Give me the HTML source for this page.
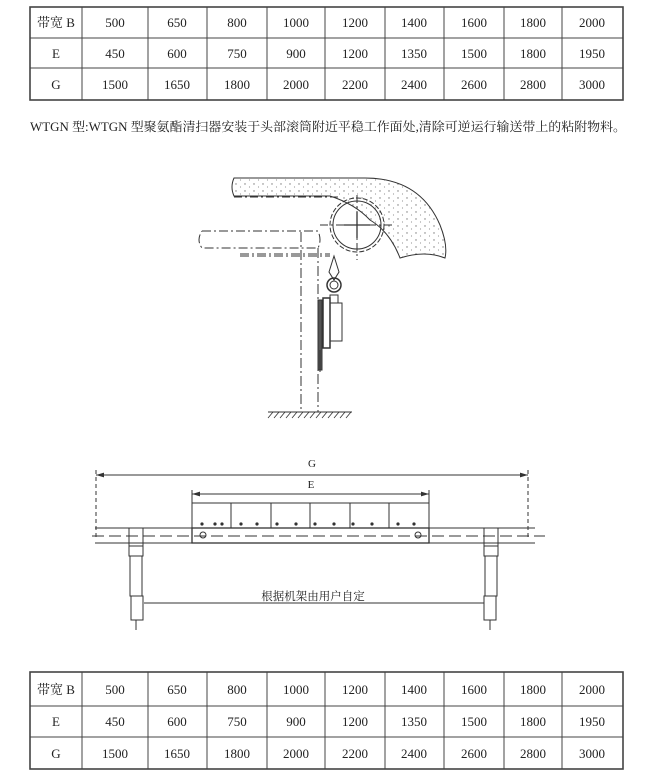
<!DOCTYPE html><html><head><meta charset="utf-8"><style>
html,body{margin:0;padding:0;background:#fff;width:650px;height:781px;overflow:hidden}
svg{display:block}
text{font-family:"Liberation Serif","Noto Serif CJK SC",serif;fill:#222}
</style></head><body>
<svg width="650" height="781" viewBox="0 0 650 781">
<defs>
<pattern id="dots" width="9" height="7" patternUnits="userSpaceOnUse"><circle cx="2" cy="2" r="0.7" fill="#777"/><circle cx="6.5" cy="5" r="0.6" fill="#999"/></pattern>
<marker id="ar" viewBox="0 0 10 6" refX="10" refY="3" markerWidth="8" markerHeight="5" orient="auto-start-reverse"><path d="M0,0L10,3L0,6z" fill="#333"/></marker>
</defs>
<g stroke="#444" stroke-width="1" fill="none">
<!-- top table -->
<rect x="30" y="7" width="593" height="93" stroke-width="1.6"/>
<line x1="30" y1="38" x2="623" y2="38"/><line x1="30" y1="68" x2="623" y2="68"/>
<path d="M82 7V100M148 7V100M207 7V100M267 7V100M325 7V100M385 7V100M444 7V100M504 7V100M562 7V100"/>
<!-- bottom table -->
<rect x="30" y="672" width="593" height="97" stroke-width="1.6"/>
<line x1="30" y1="706" x2="623" y2="706"/><line x1="30" y1="737" x2="623" y2="737"/>
<path d="M82 672V769M148 672V769M207 672V769M267 672V769M325 672V769M385 672V769M444 672V769M504 672V769M562 672V769"/>
</g>
<g font-size="13" text-anchor="middle">
<text x="56" y="27">带宽 B</text><text x="115" y="27">500</text><text x="177" y="27">650</text><text x="237" y="27">800</text><text x="296" y="27">1000</text><text x="355" y="27">1200</text><text x="414" y="27">1400</text><text x="474" y="27">1600</text><text x="533" y="27">1800</text><text x="592" y="27">2000</text>
<text x="56" y="58">E</text><text x="115" y="58">450</text><text x="177" y="58">600</text><text x="237" y="58">750</text><text x="296" y="58">900</text><text x="355" y="58">1200</text><text x="414" y="58">1350</text><text x="474" y="58">1500</text><text x="533" y="58">1800</text><text x="592" y="58">1950</text>
<text x="56" y="89">G</text><text x="115" y="89">1500</text><text x="177" y="89">1650</text><text x="237" y="89">1800</text><text x="296" y="89">2000</text><text x="355" y="89">2200</text><text x="414" y="89">2400</text><text x="474" y="89">2600</text><text x="533" y="89">2800</text><text x="592" y="89">3000</text>
<text x="56" y="694">带宽 B</text><text x="115" y="694">500</text><text x="177" y="694">650</text><text x="237" y="694">800</text><text x="296" y="694">1000</text><text x="355" y="694">1200</text><text x="414" y="694">1400</text><text x="474" y="694">1600</text><text x="533" y="694">1800</text><text x="592" y="694">2000</text>
<text x="56" y="726">E</text><text x="115" y="726">450</text><text x="177" y="726">600</text><text x="237" y="726">750</text><text x="296" y="726">900</text><text x="355" y="726">1200</text><text x="414" y="726">1350</text><text x="474" y="726">1500</text><text x="533" y="726">1800</text><text x="592" y="726">1950</text>
<text x="56" y="758">G</text><text x="115" y="758">1500</text><text x="177" y="758">1650</text><text x="237" y="758">1800</text><text x="296" y="758">2000</text><text x="355" y="758">2200</text><text x="414" y="758">2400</text><text x="474" y="758">2600</text><text x="533" y="758">2800</text><text x="592" y="758">3000</text>
</g>
<text x="30" y="131" font-size="12.5" textLength="596" lengthAdjust="spacingAndGlyphs">WTGN 型:WTGN 型聚氨酯清扫器安装于头部滚筒附近平稳工作面处,清除可逆运行输送带上的粘附物料。</text>

<!-- side view -->
<g stroke="#333" stroke-width="1" fill="none">
<path d="M234 178 H365 Q420 178 440 225 Q448 245 445 258 Q425 250 400 258 Q390 232 370 220 Q355 204 330 196 H234 Q230 187 234 178z" fill="url(#dots)"/>
<circle cx="357" cy="225" r="24"/><circle cx="357" cy="225" r="27" stroke-dasharray="5 2"/>
<path d="M344 225H370M357 212V238" stroke-width="1.3"/>
<path d="M320 225H395M357 195V260" stroke-dasharray="8 3 2 3"/>
<path d="M234 197 H340" stroke-dasharray="8 3 2 3"/>
<path d="M202 231 H318 Q322 240 318 248 H202 Q196 240 202 231" stroke-dasharray="9 3 2 3"/>
<path d="M240 254 H330M240 256 H330" stroke-dasharray="9 3 2 3"/>
<path d="M301 232V412M318 248V412" stroke-dasharray="10 3 2 3"/>
<path d="M268 412H352"/><path d="M268 418l5-6M274 418l5-6M280 418l5-6M286 418l5-6M292 418l5-6M298 418l5-6M304 418l5-6M310 418l5-6M316 418l5-6M322 418l5-6M328 418l5-6M334 418l5-6M340 418l5-6M346 418l5-6" stroke-width="0.8"/>
<path d="M334 256 L329 272 L334 280 L339 272z"/>
<circle cx="334" cy="285" r="7" stroke-width="1.5"/><circle cx="334" cy="285" r="4"/>
<rect x="330" y="295" width="8" height="8"/>
<rect x="330" y="303" width="12" height="38"/>
<rect x="323" y="298" width="7" height="50" stroke-width="1.5"/>
<rect x="318" y="300" width="4" height="70" fill="#555"/>
<path d="M320 350V372"/>
</g>

<!-- front view -->
<g stroke="#333" stroke-width="1" fill="none">
<line x1="96" y1="475" x2="528" y2="475" marker-start="url(#ar)" marker-end="url(#ar)"/>
<line x1="96" y1="470" x2="96" y2="540" stroke-dasharray="4 3"/><line x1="528" y1="470" x2="528" y2="540" stroke-dasharray="4 3"/>
<line x1="192" y1="494" x2="429" y2="494" marker-start="url(#ar)" marker-end="url(#ar)"/>
<line x1="192" y1="490" x2="192" y2="505"/><line x1="429" y1="490" x2="429" y2="505"/>
<rect x="192" y="503" width="237" height="25"/>
<path d="M231 503V528M271 503V528M310 503V528M350 503V528M389 503V528"/>
<rect x="192" y="528" width="237" height="15" stroke-width="1.3"/>
<path d="M95 528H192M429 528H535M95 543H192M429 543H535"/>
<path d="M92 536H545" stroke-dasharray="12 5"/>
<circle cx="203" cy="535" r="3"/><circle cx="418" cy="535" r="3"/>
<rect x="129" y="528" width="14" height="18"/><rect x="484" y="528" width="14" height="18"/>
<rect x="129" y="546" width="14" height="10"/><rect x="484" y="546" width="14" height="10"/>
<rect x="130" y="556" width="12" height="40"/><rect x="485" y="556" width="12" height="40"/>
<rect x="131" y="596" width="12" height="24"/><rect x="484" y="596" width="12" height="24"/>
<line x1="144" y1="603" x2="484" y2="603"/>
<path d="M136 620V630M490 620V630"/>
</g>
<g fill="#333">
<circle cx="202" cy="524" r="1.6"/><circle cx="215" cy="524" r="1.6"/><circle cx="222" cy="524" r="1.6"/><circle cx="241" cy="524" r="1.6"/><circle cx="257" cy="524" r="1.6"/><circle cx="277" cy="524" r="1.6"/><circle cx="296" cy="524" r="1.6"/><circle cx="315" cy="524" r="1.6"/><circle cx="334" cy="524" r="1.6"/><circle cx="353" cy="524" r="1.6"/><circle cx="372" cy="524" r="1.6"/><circle cx="398" cy="524" r="1.6"/><circle cx="414" cy="524" r="1.6"/>
</g>
<g font-size="11" text-anchor="middle" font-family="Liberation Sans,sans-serif">
<text x="312" y="467">G</text><text x="311" y="488">E</text>
</g>
<text x="313" y="600" font-size="11.5" text-anchor="middle">根据机架由用户自定</text>
</svg>
</body></html>
